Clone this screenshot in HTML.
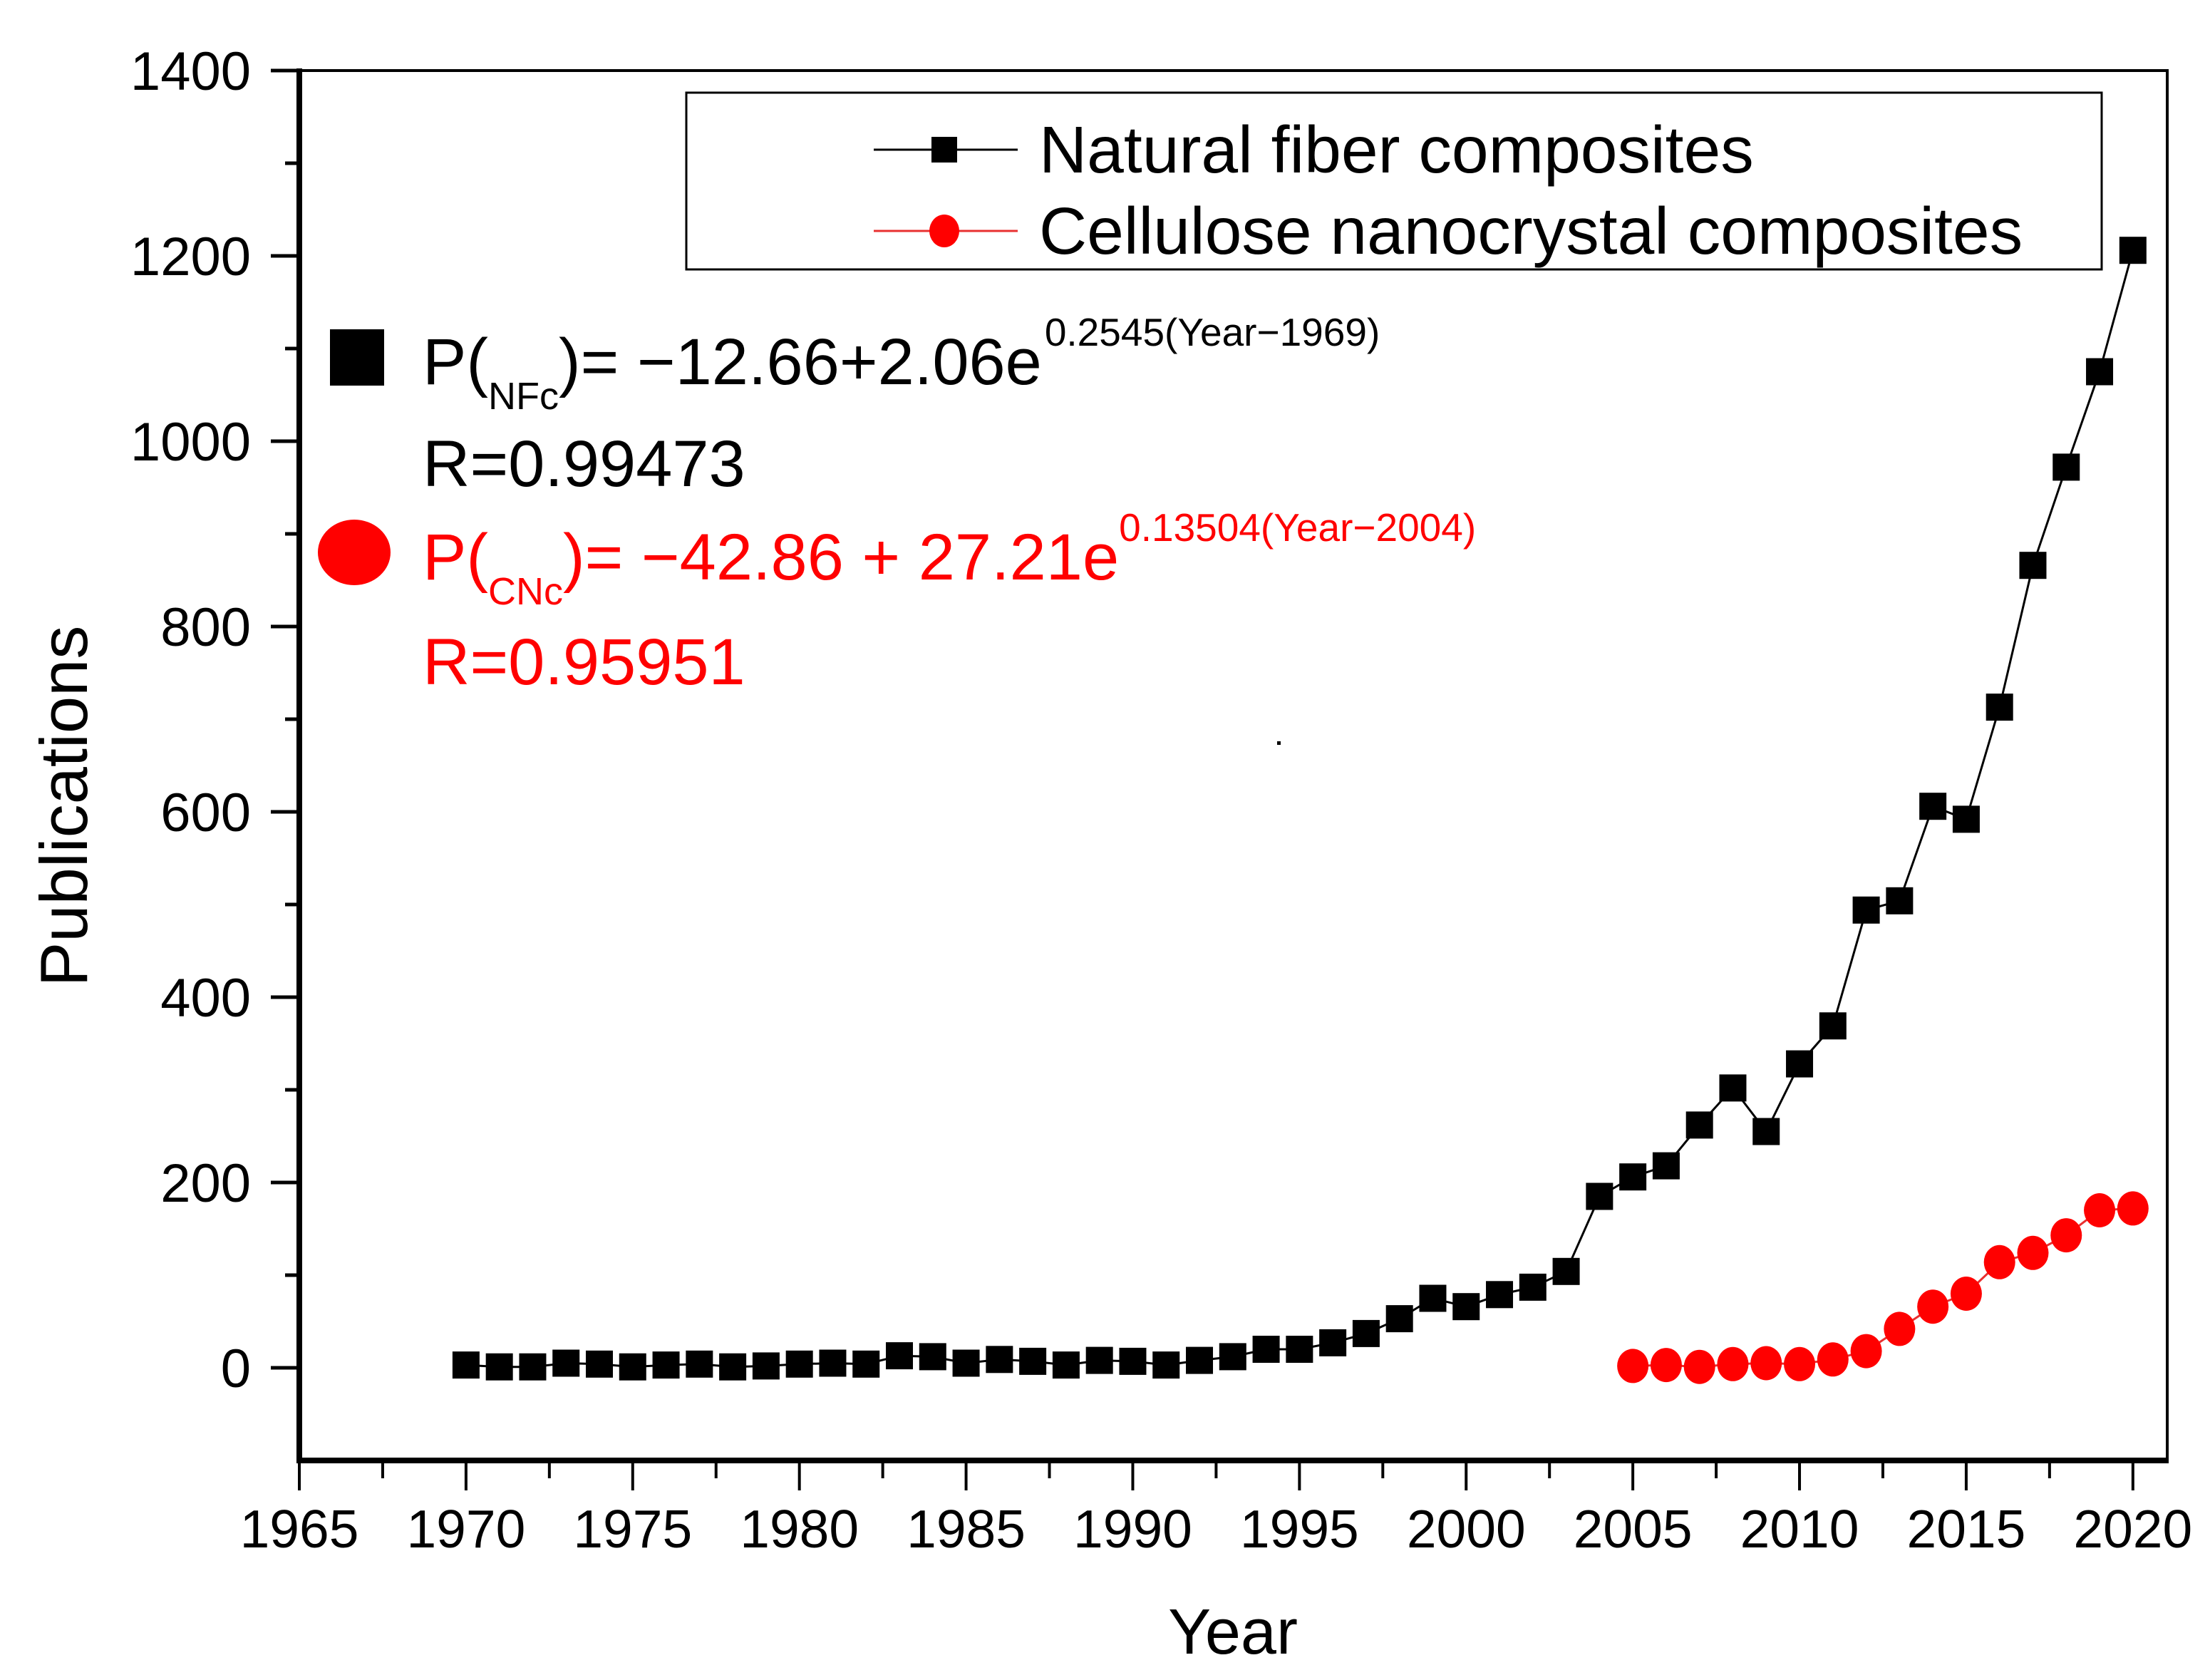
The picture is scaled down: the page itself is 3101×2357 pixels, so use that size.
<!DOCTYPE html>
<html><head><meta charset="utf-8"><style>
html,body{margin:0;padding:0;background:#fff}
svg{display:block;font-family:"Liberation Sans",Arial,sans-serif}
</style></head><body>
<svg id="chart" width="3101" height="2357" viewBox="0 0 3101 2357" xmlns="http://www.w3.org/2000/svg">
<rect width="3101" height="2357" fill="#fff"/>
<g id="grid-layer"></g>
<g id="series-layer"></g>
<g id="axes-layer"></g>
<g>
  <rect x="963" y="130" width="1986" height="248" fill="#fff" stroke="#000" stroke-width="3"/>
  <g>
    <line x1="1226" y1="210" x2="1428" y2="210" stroke="#000" stroke-width="3"/>
    <rect x="1307" y="192" width="36" height="36" fill="#000"/>
    <text x="1458" y="242" font-size="93" fill="#000">Natural fiber composites</text>
  </g>
  <g>
    <line x1="1226" y1="324" x2="1428" y2="324" stroke="#e83030" stroke-width="3"/>
    <ellipse cx="1325" cy="324" rx="21" ry="23" fill="#ff0000"/>
    <text x="1458" y="356" font-size="93" fill="#000">Cellulose nanocrystal composites</text>
  </g>
</g>
<g>
  <rect x="463" y="462" width="76" height="79" fill="#000"/>
  <text x="593" y="539" font-size="92" fill="#000">P(<tspan font-size="54" dy="35">NFc</tspan><tspan dy="-35">)= −12.66+2.06e</tspan><tspan font-size="55" dy="-54" dx="4">0.2545(Year−1969)</tspan></text>
  <text x="593" y="682" font-size="92" fill="#000">R=0.99473</text>
</g>
<g>
  <ellipse cx="497" cy="775" rx="51" ry="46" fill="#ff0000"/>
  <text x="593" y="813" font-size="92" fill="#ff0000">P(<tspan font-size="54" dy="35">CNc</tspan><tspan dy="-35">)= −42.86 + 27.21e</tspan><tspan font-size="55" dy="-54">0.13504(Year−2004)</tspan></text>
  <text x="593" y="960" font-size="92" fill="#ff0000">R=0.95951</text>
</g>
<rect x="1792" y="1040" width="5" height="5" fill="#000"/>
<text x="1730" y="2320" font-size="90" text-anchor="middle">Year</text>
<text transform="translate(122,1131) rotate(-90)" font-size="94" text-anchor="middle">Publications</text>
<script>
const nfcYears = [1970,1971,1972,1973,1974,1975,1976,1977,1978,1979,1980,1981,1982,1983,1984,1985,1986,1987,1988,1989,1990,1991,1992,1993,1994,1995,1996,1997,1998,1999,2000,2001,2002,2003,2004,2005,2006,2007,2008,2009,2010,2011,2012,2013,2014,2015,2016,2017,2018,2019,2020];
const nfcValues = [3,1,1,5,4,1,3,4,1,2,4,5,4,13,12,5,9,7,3,8,7,3,8,12,20,20,27,37,53,75,66,79,87,104,185,206,218,262,302,255,328,369,494,504,606,592,713,866,972,1075,1206];
const cncYears = [2005,2006,2007,2008,2009,2010,2011,2012,2013,2014,2015,2016,2017,2018,2019,2020];
const cncValues = [2,3,1,4,5,4,9,18,42,66,80,114,124,143,170,172];
const xTickLabels = [1965,1970,1975,1980,1985,1990,1995,2000,2005,2010,2015,2020];
const yTickLabels = [0,200,400,600,800,1000,1200,1400];

const X0=420, X1=3041, Y0=99, Y1=2049;
const xMin=1965, xMax=2021.03, yMin=-100, yMax=1400;
const xs = v => X0 + (v - xMin) / (xMax - xMin) * (X1 - X0);
const ys = v => Y1 - (v - yMin) / (yMax - yMin) * (Y1 - Y0);
const NS='http://www.w3.org/2000/svg';
function mk(tag, attrs, parent){const e=document.createElementNS(NS,tag);for(const k in attrs)e.setAttribute(k,attrs[k]);parent.appendChild(e);return e;}
const series=document.getElementById('series-layer');
const axes=document.getElementById('axes-layer');

const l1=mk('polyline',{points:nfcYears.map((y,i)=>xs(y)+','+ys(nfcValues[i])).join(' '),fill:'none',stroke:'#000','stroke-width':3},series);


nfcYears.forEach((yr,i)=>{
  const r=mk('rect',{x:xs(yr)-19,y:ys(nfcValues[i])-19,width:38,height:38,fill:'#000'},series);
  
  
});
const l2=mk('polyline',{points:cncYears.map((y,i)=>xs(y)+','+ys(cncValues[i])).join(' '),fill:'none',stroke:'#e83030','stroke-width':3},series);


cncYears.forEach((yr,i)=>{
  const c=mk('ellipse',{cx:xs(yr),cy:ys(cncValues[i]),rx:22,ry:24,fill:'#ff0000'},series);
  
  
});

const fr=mk('rect',{x:X0,y:Y0,width:X1-X0,height:Y1-Y0,fill:'none',stroke:'#000','stroke-width':4},axes);


const la=mk('line',{x1:X0,y1:Y0-3,x2:X0,y2:Y1+4,stroke:'#000','stroke-width':8},axes);


const ba=mk('line',{x1:X0-4,y1:Y1,x2:X1+2,y2:Y1,stroke:'#000','stroke-width':8},axes);



yTickLabels.forEach(v=>{
  const y=ys(v);
  mk('line',{x1:X0-40,y1:y,x2:X0,y2:y,stroke:'#000','stroke-width':5},axes);
  const t=mk('text',{x:352,y:y+27,'font-size':76,'text-anchor':'end'},axes);
  t.textContent=v;
  
  
  if(v<1400){
    const ym=ys(v+100);
    mk('line',{x1:X0-20,y1:ym,x2:X0,y2:ym,stroke:'#000','stroke-width':5},axes);
  }
});
xTickLabels.forEach(v=>{
  const x=xs(v);
  mk('line',{x1:x,y1:Y1,x2:x,y2:Y1+42,stroke:'#000','stroke-width':4},axes);
  if(v<2020){const xm=xs(v+2.5);mk('line',{x1:xm,y1:Y1,x2:xm,y2:Y1+25,stroke:'#000','stroke-width':4},axes);}
  const t=mk('text',{x:x,y:2171,'font-size':75,'text-anchor':'middle'},axes);
  t.textContent=v;
  
  
});
</script>
</svg>
</body></html>
